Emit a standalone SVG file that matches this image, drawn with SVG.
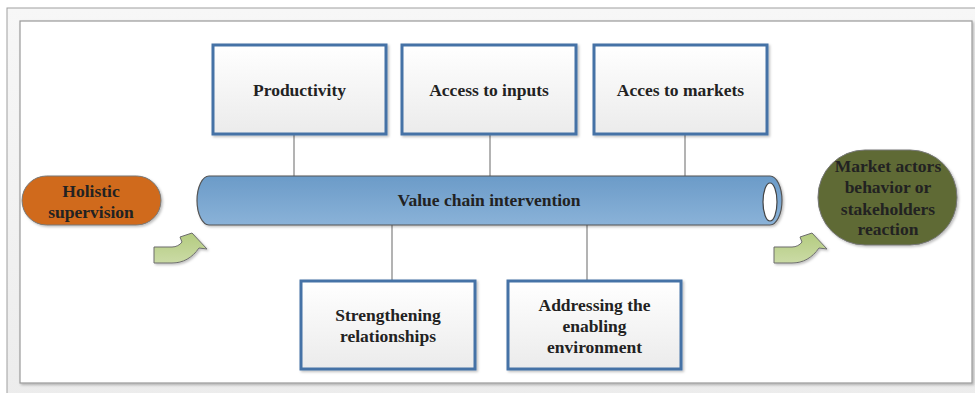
<svg xmlns="http://www.w3.org/2000/svg" width="975" height="393" viewBox="0 0 975 393">
<style>
text{font-family:"Liberation Serif","Times New Roman",serif;font-weight:bold;font-size:17.5px;fill:#222;text-anchor:middle}
.box{fill:url(#gBox);stroke:#4472a6;stroke-width:3;filter:url(#sh)}
.conn{stroke:#808080;stroke-width:1.2;fill:none}
.arr{fill:url(#gArr);stroke:#6d6d6d;stroke-width:1;filter:url(#sh)}
</style>
<defs>
<linearGradient id="gBox" x1="0" y1="0" x2="0" y2="1"><stop offset="0" stop-color="#ffffff"/><stop offset="1" stop-color="#ebebeb"/></linearGradient>
<linearGradient id="gPipe" x1="0" y1="0" x2="0" y2="1"><stop offset="0" stop-color="#6b9bc8"/><stop offset="1" stop-color="#8ab2d8"/></linearGradient>
<linearGradient id="gArr" x1="0" y1="0" x2="0" y2="1"><stop offset="0" stop-color="#b3cb7f"/><stop offset="1" stop-color="#cbdba6"/></linearGradient>
<linearGradient id="gBg" x1="0" y1="0" x2="0" y2="1"><stop offset="0" stop-color="#f7f7f7"/><stop offset="1" stop-color="#ececec"/></linearGradient>
<filter id="sh" x="-10%" y="-10%" width="130%" height="130%"><feDropShadow dx="1.5" dy="1.5" stdDeviation="1.2" flood-color="#000" flood-opacity="0.25"/></filter>
</defs>
<rect x="0" y="0" width="975" height="393" fill="#ffffff"/>
<rect x="7" y="8" width="975" height="400" fill="url(#gBg)" stroke="#a0a0a0" stroke-width="1"/>
<rect x="20" y="21" width="952" height="362" fill="#ffffff" stroke="#9a9a9a" stroke-width="1.2" filter="url(#sh)"/>

<g id="connectors">
<line class="conn" x1="294" y1="135" x2="294" y2="176"/>
<line class="conn" x1="490" y1="135" x2="490" y2="176"/>
<line class="conn" x1="685" y1="135" x2="685" y2="176"/>
<line class="conn" x1="392" y1="225" x2="392" y2="281"/>
<line class="conn" x1="587" y1="225" x2="587" y2="281"/>
<path class="arr" d="M154,247 L172,247 C176,247 180,245 182,242 L180,237 L192,233 L207,249 L199,248 C192,258 183,263 172,263 L154,263 Z"/>
<path class="arr" d="M774,247 L792,247 C796,247 800,245 802,242 L800,237 L812,233 L827,249 L819,248 C812,258 803,263 792,263 L774,263 Z"/>
</g>

<g id="productivity">
<rect class="box" x="213" y="45" width="173" height="89"/>
<text x="299.5" y="96">Productivity</text>
</g>
<g id="access-inputs">
<rect class="box" x="402" y="45" width="174" height="89"/>
<text x="489" y="96">Access to inputs</text>
</g>
<g id="access-markets">
<rect class="box" x="594" y="45" width="173" height="89"/>
<text x="680.5" y="96">Acces to markets</text>
</g>

<g id="value-chain">
<path d="M209,176 L770,176 A12,24.5 0 0 1 770,225 L209,225 A12,24.5 0 0 1 209,176 Z" fill="url(#gPipe)" stroke="#555" stroke-width="1.2" filter="url(#sh)"/>
<ellipse cx="770" cy="202" rx="7" ry="19" fill="#ffffff" stroke="#444" stroke-width="1.2"/>
<text x="489" y="206">Value chain intervention</text>
</g>

<g id="holistic">
<rect x="22" y="176" width="139" height="49" rx="24.5" ry="24.5" fill="#d06b1a" stroke="#777" stroke-width="1" filter="url(#sh)"/>
<text x="91" y="197">Holistic</text>
<text x="91" y="218">supervision</text>
</g>

<g id="market-actors">
<rect x="818" y="150" width="139" height="95" rx="47" ry="47" fill="#5e6b34" stroke="#777" stroke-width="1" filter="url(#sh)"/>
<text x="888" y="172">Market actors</text>
<text x="888" y="193">behavior or</text>
<text x="888" y="215">stakeholders</text>
<text x="888" y="235">reaction</text>
</g>

<g id="strengthening">
<rect class="box" x="301" y="281" width="174" height="88"/>
<text x="388" y="321">Strengthening</text>
<text x="388" y="342">relationships</text>
</g>
<g id="addressing">
<rect class="box" x="508" y="281" width="173" height="88"/>
<text x="594.5" y="311">Addressing the</text>
<text x="594.5" y="332">enabling</text>
<text x="594.5" y="353">environment</text>
</g>
</svg>
